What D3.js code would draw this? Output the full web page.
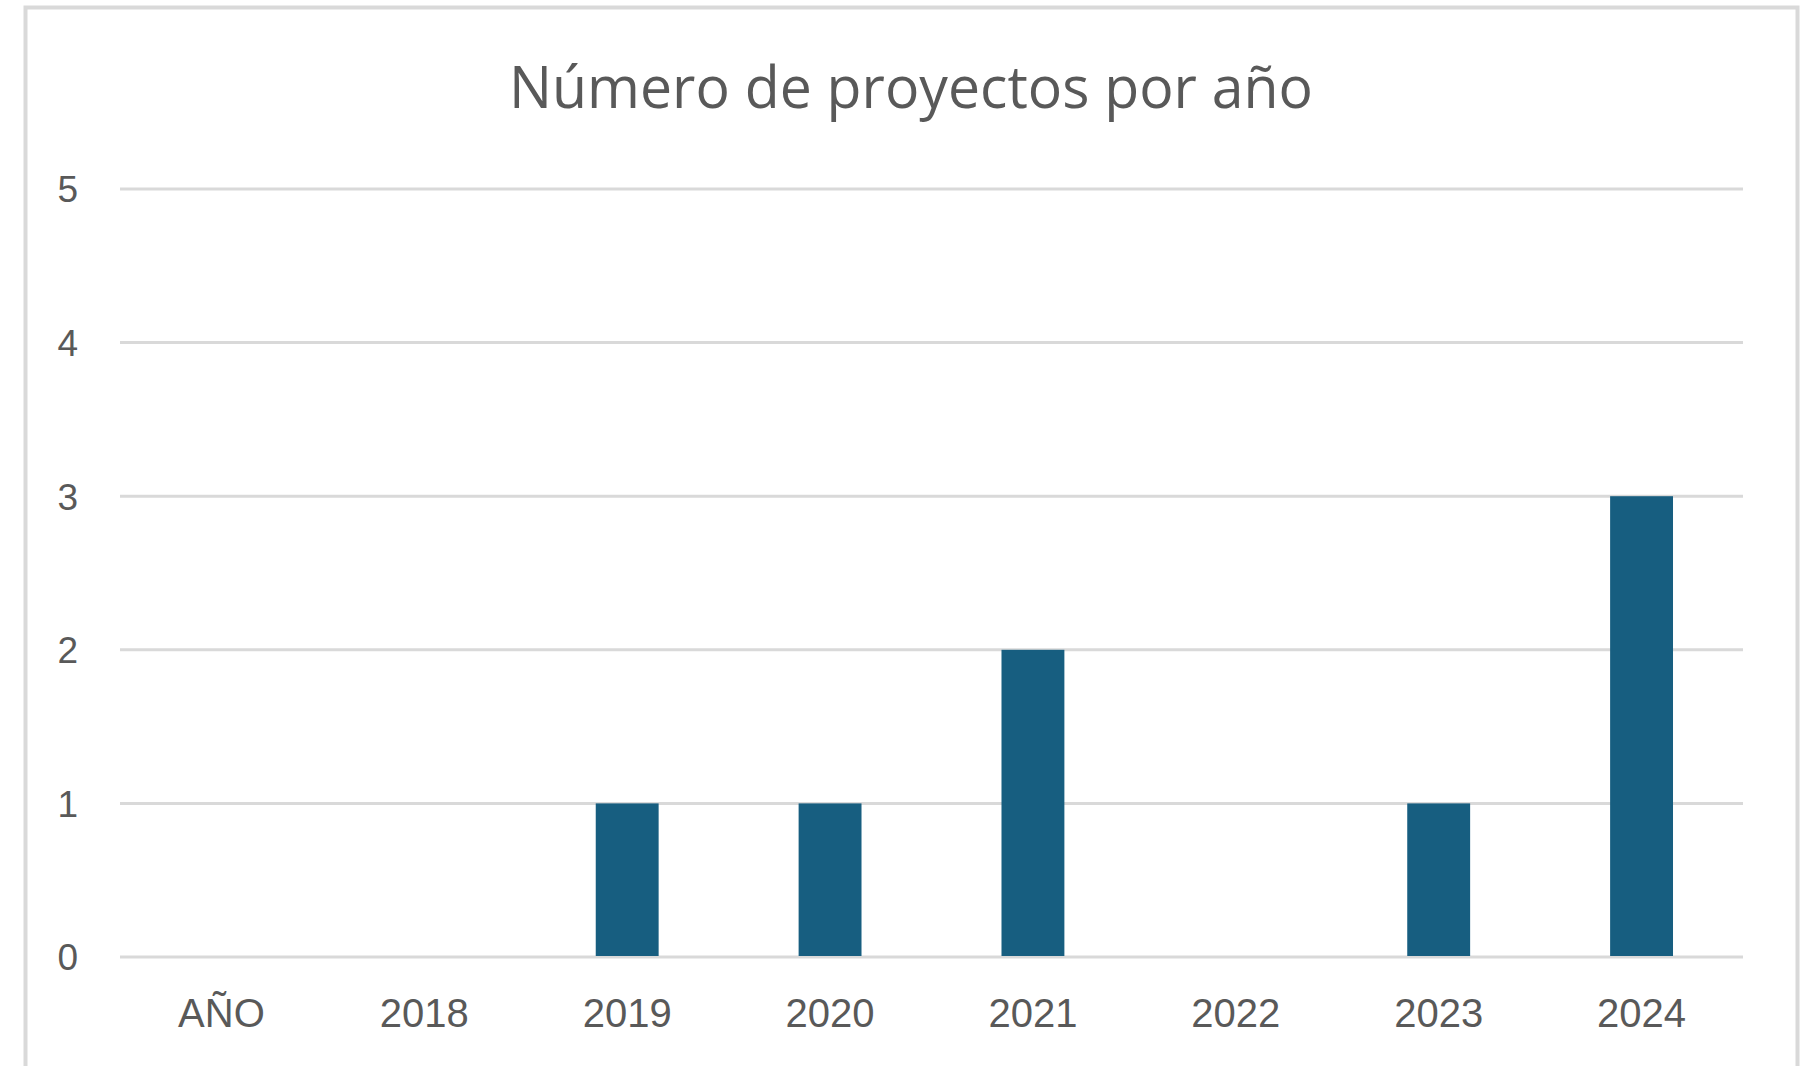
<!DOCTYPE html>
<html>
<head>
<meta charset="utf-8">
<script src="https://cdn.jsdelivr.net/npm/d3@7"></script>
<style>
  html, body { margin: 0; padding: 0; background: #ffffff; }
  svg { display: block; }
</style>
</head>
<body>
<svg id="chart" width="1802" height="1066"></svg>
<script>
const title = "Número de proyectos por año";
const categories = ["AÑO", "2018", "2019", "2020", "2021", "2022", "2023", "2024"];
const values = [0, 0, 1, 1, 2, 0, 1, 3];
const yTicks = [0, 1, 2, 3, 4, 5];

const svg = d3.select("#chart");
const W = 1802, H = 1066;
const margin = { left: 120, right: 59, top: 189, bottom: 109 };
const plotRight = W - margin.right;
const plotBottom = H - margin.bottom;

// outer chart frame (bottom edge cut off)
svg.append("path")
  .attr("d", `M25.5,${H + 5} L25.5,7.5 L1797.5,7.5 L1797.5,${H + 5}`)
  .attr("fill", "none")
  .attr("stroke", "#d9d9d9")
  .attr("stroke-width", 4);

const x = d3.scaleBand()
  .domain(categories)
  .range([margin.left, plotRight])
  .paddingInner(0.69)
  .paddingOuter(0.345);

const y = d3.scaleLinear()
  .domain([0, 5])
  .range([plotBottom, margin.top]);

// gridlines
svg.append("g")
  .selectAll("line")
  .data(yTicks)
  .join("line")
  .attr("x1", margin.left)
  .attr("x2", plotRight)
  .attr("y1", d => y(d))
  .attr("y2", d => y(d))
  .attr("stroke", "#d9d9d9")
  .attr("stroke-width", 3);

// y tick labels
svg.append("g")
  .selectAll("text")
  .data(yTicks)
  .join("text")
  .attr("x", 78)
  .attr("y", d => y(d))
  .attr("dy", "0.36em")
  .attr("text-anchor", "end")
  .attr("fill", "#595959")
  .attr("font-family", "'Liberation Sans', Arial, sans-serif")
  .attr("font-size", 37)
  .text(d => d);

// bars
svg.append("g")
  .selectAll("rect")
  .data(categories.map((c, i) => ({ c, v: values[i] })).filter(d => d.v > 0))
  .join("rect")
  .attr("x", d => x(d.c))
  .attr("width", x.bandwidth())
  .attr("y", d => y(d.v))
  .attr("height", d => y(0) - y(d.v) - 1)
  .attr("fill", "#175e80");

// x labels
svg.append("g")
  .selectAll("text")
  .data(categories)
  .join("text")
  .attr("x", d => x(d) + x.bandwidth() / 2)
  .attr("y", 1027)
  .attr("text-anchor", "middle")
  .attr("fill", "#595959")
  .attr("font-family", "'Liberation Sans', Arial, sans-serif")
  .attr("font-size", 40)
  .text(d => d);

// title
const t = svg.append("text")
  .attr("x", 911)
  .attr("y", 108)
  .attr("text-anchor", "middle")
  .attr("fill", "#595959")
  .attr("font-family", "'Open Sans', 'Noto Sans', sans-serif")
  .attr("font-size", 58)
  .text(title);
t.attr("textLength", 804).attr("lengthAdjust", "spacingAndGlyphs");
</script>
</body>
</html>
